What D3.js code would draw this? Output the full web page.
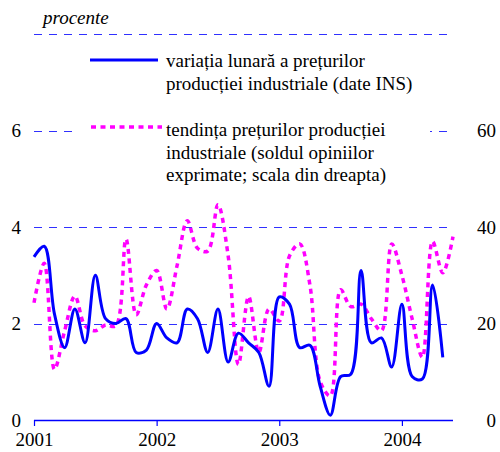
<!DOCTYPE html>
<html>
<head>
<meta charset="utf-8">
<script src="https://cdn.jsdelivr.net/npm/d3@7"></script>
<style>
  svg text, svg tspan { font-family: "Liberation Serif", "Times New Roman", Tinos, serif !important; }
</style>
</head>
<body style="margin:0">
<script>
// monthly data, Jan 2001 .. Jun 2004
const yearLabels = ["2001", "2002", "2003", "2004"]
const yearTickMonths = [0, 12, 24, 36]
const leftTicks = [0, 2, 4, 6]
const rightTicks = [0, 20, 40, 60]

// variatia lunara a preturilor productiei industriale (%), Jan 2001 .. May 2004
const monthlyChange = [3.38, 3.6, 2.2, 1.5, 2.3, 1.6, 3.0, 2.1, 2.0, 2.1, 1.4, 1.45,
  2.0, 1.7, 1.6, 2.3, 2.1, 1.4, 2.3, 1.2, 1.8, 1.6, 1.4, 0.7,
  2.55, 2.4, 1.5, 1.55, 0.7, 0.1, 0.9, 0.95, 3.1, 1.6, 1.7, 1.1,
  2.4, 0.9, 0.85, 2.8, 1.3]

// tendinta preturilor (soldul opiniilor), Jan 2001 .. Jun 2004
const priceTrend = [24.3, 32.5, 10.5, 18.5, 25.7, 19.5, 18.5, 19.7, 19.5, 37.5, 21.8, 28,
  31, 23, 32, 41.3, 35.6, 35, 44.6, 34, 11.5, 25.6, 14, 23,
  20.5, 34, 36.5, 28, 8, 5, 27, 23.5, 24, 21, 18.5, 36.5,
  30, 21, 13, 37, 30.5, 38]

const legendLabels = [
  ["variația lunară a prețurilor", "producției industriale (date INS)"],
  ["tendința prețurilor producției", "industriale (soldul opiniilor", "exprimate; scala din dreapta)"]
]

function drawChart() {
  const dimensions = {
    width: 500,
    height: 452,
    left: 34,
    right: 453,
    top: 34,
    bottom: 420,
  }

  const svg = d3.select("body")
    .append("svg")
      .attr("width", dimensions.width)
      .attr("height", dimensions.height)
      .attr("font-family", "Liberation Serif")

  const xScale = d3.scaleLinear()
    .domain([0, 41])
    .range([dimensions.left, dimensions.right])

  const yLeft = d3.scaleLinear()
    .domain([0, 8])
    .range([dimensions.bottom, dimensions.top])

  const yRight = d3.scaleLinear()
    .domain([0, 80])
    .range([dimensions.bottom, dimensions.top])

  // dashed gridlines
  svg.append("g")
    .selectAll("line")
    .data([2, 4, 6, 8])
    .join("line")
      .attr("x1", dimensions.left)
      .attr("x2", dimensions.right)
      .attr("y1", d => Math.round(yLeft(d)) + 0.5)
      .attr("y2", d => Math.round(yLeft(d)) + 0.5)
      .attr("stroke", "#3030ff")
      .attr("stroke-width", 1)
      .attr("stroke-dasharray", "8 7")

  // legend box hides the gridline behind it
  svg.append("rect")
    .attr("x", 76)
    .attr("y", 44)
    .attr("width", 354)
    .attr("height", 146)
    .attr("fill", "#fff")

  // x axis
  const xAxisGen = d3.axisBottom(xScale)
    .tickValues(yearTickMonths)
    .tickFormat((d, i) => yearLabels[i])
    .tickSize(6)
    .tickPadding(6)
  const xAxis = svg.append("g")
    .attr("transform", `translate(0,${dimensions.bottom})`)
    .call(xAxisGen)
    .attr("font-family", "Liberation Serif")
  xAxis.select(".domain")
    .attr("d", `M${dimensions.left},0.5H${dimensions.right}`)
    .attr("stroke", "#0000ff")
    .attr("stroke-width", 1.5)
  xAxis.selectAll(".tick line").attr("stroke", "#0000ff").attr("stroke-width", 1.2)
  xAxis.selectAll(".tick text")
    .attr("fill", "#000")
    .attr("y", 13)

  // y labels left and right
  svg.append("g")
    .selectAll("text")
    .data(leftTicks)
    .join("text")
      .attr("x", 21)
      .attr("y", d => yLeft(d))
      .attr("dy", "0.35em")
      .attr("text-anchor", "end")
      .text(d => d)

  svg.append("g")
    .selectAll("text")
    .data(rightTicks)
    .join("text")
      .attr("x", 496)
      .attr("y", d => yRight(d))
      .attr("dy", "0.35em")
      .attr("text-anchor", "end")
      .text(d => d)

  svg.append("text")
    .attr("x", 43)
    .attr("y", 24)
    .attr("font-style", "italic")
    .text("procente")

  // series
  const trendLine = d3.line()
    .x((d, i) => xScale(i))
    .y(d => yRight(d))
    .curve(d3.curveCatmullRom)

  svg.append("path")
    .datum(priceTrend)
    .attr("d", trendLine)
    .attr("fill", "none")
    .attr("stroke", "#ff00ff")
    .attr("stroke-width", 3.5)
    .attr("stroke-dasharray", "5 4.5")

  const changeLine = d3.line()
    .x((d, i) => xScale(i))
    .y(d => yLeft(d))
    .curve(d3.curveCatmullRom)

  svg.append("path")
    .datum(monthlyChange)
    .attr("d", changeLine)
    .attr("fill", "none")
    .attr("stroke", "#0000ff")
    .attr("stroke-width", 3)
    .attr("stroke-linejoin", "round")

  // legend
  svg.append("line")
    .attr("x1", 90).attr("x2", 158)
    .attr("y1", 60).attr("y2", 60)
    .attr("stroke", "#0000ff")
    .attr("stroke-width", 3)

  svg.append("line")
    .attr("x1", 91).attr("x2", 162)
    .attr("y1", 127).attr("y2", 127)
    .attr("stroke", "#ff00ff")
    .attr("stroke-width", 3.5)
    .attr("stroke-dasharray", "5 4.5")

  const legendTop = [67, 136]
  legendLabels.forEach((lines, k) => {
    lines.forEach((line, i) => {
      svg.append("text")
        .attr("x", 166)
        .attr("y", legendTop[k] + i * 22.5)
        .text(line)
    })
  })

  svg.selectAll("text")
    .attr("font-size", 19)
    .attr("font-family", "Liberation Serif")
}

drawChart()
</script>
</body>
</html>
